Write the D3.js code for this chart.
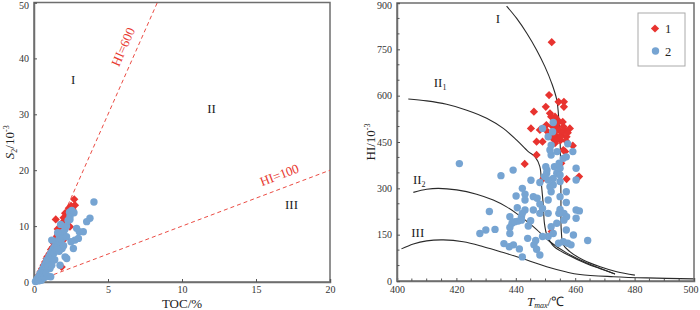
<!DOCTYPE html>
<html><head><meta charset="utf-8">
<script src="https://cdn.jsdelivr.net/npm/d3@7"></script>
<style>
body{margin:0;background:#fff;}
svg text{font-family:"Liberation Serif","Times New Roman",serif;}
</style></head>
<body><svg id="c" width="700" height="310"></svg>
<script>
// ---------- Left chart data (TOC %, S2) ----------
const toc1 = [2.72,1.47,2.43,2.32,2.54,2.21,1.98,1.87,1.71,1.53,1.3,1.2,0.9,1.87,1.98,2.43,2.77,2.1,2.35,2.25,2.15,2.05,1.95,1.85,1.75,1.65,1.55,1.45,1.35,1.25,1.15,1.05,0.95,0.85,0.75,0.65,0.55,0.45,0.35,2.6,2.5,2.4,2.0,1.6];
const s2_1 = [14.8,11.2,12.6,11.7,13.5,10.8,9.6,8.7,7.8,6.6,6.3,5.7,4.5,2.7,7.5,9.9,13.75,12.3,13.2,12.4,11.6,11.0,10.4,10.0,9.2,8.6,8.2,7.4,6.9,6.0,5.8,5.1,4.6,4.2,3.6,3.0,2.4,1.9,1.3,13.0,13.6,12.9,11.5,9.5];
const toc2 = [0.1,0.2,0.3,0.35,0.4,0.45,0.5,0.55,0.6,0.65,0.7,0.75,0.8,0.85,0.9,0.95,1.0,1.05,1.1,1.15,1.2,1.25,1.3,1.35,1.4,1.45,1.5,1.55,1.6,1.65,1.7,1.75,1.8,1.85,1.9,1.95,2.0,2.1,2.2,2.3,2.4,2.55,2.7,4.05,3.78,3.56,3.33,3.06,3.0,2.88,2.77,2.66,2.43,2.21,2.1,1.76,1.3,1.2,1.08,0.97,0.63,0.41,0.86,1.53,2.43,1.8,1.6,2.2,1.9,1.4,2.5,0.3,0.5,0.7,1.0,0.8,1.13,1.2,1.7,2.0];
const s2_2 = [0.1,0.5,0.9,0.6,1.5,1.0,1.8,1.2,2.4,1.8,2.9,2.2,3.4,2.7,3.9,3.2,4.5,3.7,5.0,4.3,5.4,4.8,5.9,5.2,6.3,5.8,6.8,6.2,7.3,6.7,7.8,7.2,8.3,7.6,8.8,8.1,8.9,9.5,10.0,11.0,12.5,12.8,12.4,14.3,11.4,10.8,9.0,9.0,7.8,9.6,7.5,6.0,11.7,4.2,4.5,3.0,3.9,7.5,2.4,2.7,1.55,0.95,3.9,5.7,11.2,10.3,8.8,8.1,6.0,4.0,7.2,0.2,0.3,0.8,1.0,1.6,0.95,3.0,5.5,6.5];
const hiLines = [600,100];
const leftXTicks = [0,5,10,15,20];
const leftYTicks = [0,10,20,30,40,50];
const leftZones = [{t:"I",x:2.65,y:35.5},{t:"II",x:12,y:30.2},{t:"III",x:17.4,y:13}];

// ---------- Right chart data (Tmax °C, HI) ----------
const tmax1 = [452.1,451.2,454.4,456.2,456.2,450.1,446.1,451.5,451.9,453.2,445.1,448.1,450.3,450.7,452.4,453.2,456.6,458.2,453.8,455.4,457.1,452.4,447,449,453.2,459.2,456,456.6,447,443,455.3,449.3,457.1,461.3,452.1,454.5,455.5,456,454,455,457.5,453,454.2,455.8,452.8,456.8,455,453.5];
const hi1   = [773,602,580,580,564,564,548,543,532,532,494,489,505,483,500,500,489,494,467,473,467,462,451,451,446,438,424,419,408,379,381,332,330,338,160,490,480,500,510,455,480,480,520,515,470,455,465,455];
const tmax2 = [421,435,439.1,431.1,427.9,429.9,433,436,437.8,439.2,441.2,442.2,438,438,438,438.7,439.7,440.8,441.9,440.5,440.1,442.2,443.1,443.1,443.1,442.2,441.9,444.2,445,444,445.9,445.1,448.1,445.9,447.2,448.1,449,448.1,446.1,447,448.1,446.7,449,450.9,451.9,450.9,450.9,451.9,452.6,452.6,453.8,450.5,453,454.6,451.9,451.5,451.9,450.9,449,452.6,452.4,453.9,456,457,457.5,459.2,460.3,460.3,457,457,454.9,456.2,457.1,456.2,454.5,453.8,459.4,457,457.5,458.6,456,460.3,461.4,460.3,464.2,454.9,454.9,454.9,450.1,450.4,450.9,451.5,449.7,454.4,452.6,454.9];
const hi2   = [380,341,359,225,154,165,167,121,111,117,104,78,173,154,208,187,192,194,208,237,275,300,281,262,230,219,197,178,195,138,273,326,319,230,268,249,235,219,117,103,84,131,144,144,176,219,262,289,311,332,349,359,370,381,408,424,440,467,494,513,483,419,397,402,444,419,365,327,289,254,232,219,208,197,219,187,149,165,122,117,127,230,227,203,131,322,343,365,370,349,327,305,338,122,154,273];
const rightXTicks = [400,420,440,460,480,500];
const rightYTicks = [0,150,300,450,600,750,900];
// type curves (Tmax, HI)
const curveI   = [[436.9,890],[440.3,850],[443.7,802],[447.0,748],[449.8,694],[452.1,640],[453.8,586],[454.5,521],[454.9,456],[455.1,370],[455.2,262],[455.3,165],[456.0,117],[458.2,95],[462.7,68],[468.4,46],[474,30],[480.1,19]];
const curveII1 = [[403.8,589],[410,583],[416.7,572],[423.5,553],[430.2,527],[435.8,494],[440.3,456],[444.2,419],[446.5,402],[448.1,370],[448.7,305],[449.3,240],[449.6,190],[450.5,148],[452.8,112],[457.3,86],[463.9,56],[468.4,40],[473.4,23]];
const curveII2 = [[405.5,287],[410,297],[413.9,300],[420.1,295],[426.8,281],[432.4,262],[436.9,240],[440.3,218],[445.9,176],[451.5,127],[457.1,91],[463.9,58],[468.4,41],[473.4,23]];
const curveIII = [[401.5,104],[405.5,120],[410,130],[415.6,133],[422.3,127],[429.1,111],[435.8,92],[441.4,75],[450.4,46],[457.1,29],[461.6,21],[472.9,14],[484.1,10],[499.8,7]];
const curves = [curveI,curveII1,curveII2,curveIII];
const rightZones = [{t:"I",s:"",x:434,y:835},{t:"II",s:"1",x:414.5,y:628},{t:"II",s:"2",x:407.5,y:313},{t:"III",s:"",x:407,y:143}];
const legendItems = ["1","2"];

const RED = "#e8332f", BLUE = "#76a4d2";
const svg = d3.select("#c");
const frameColor = "#6e6e6e";

function styleAxis(a){
  a.select(".domain").attr("stroke",frameColor).attr("stroke-width",1.5);
  a.selectAll(".tick line").attr("stroke","#555");
  a.selectAll(".tick text").attr("font-size",10).attr("fill","#333").attr("font-family","Liberation Serif");
}

// ================= LEFT =================
const xL = d3.scaleLinear().domain([0,20]).range([34,330]);
const yL = d3.scaleLinear().domain([0,50]).range([282,2.5]);
const gL = svg.append("g");

gL.append("rect").attr("x",xL(0)).attr("y",yL(50)).attr("width",xL(20)-xL(0)).attr("height",yL(0)-yL(50))
  .attr("fill","none").attr("stroke",frameColor).attr("stroke-width",1.5);
const axL = gL.append("g").attr("transform",`translate(0,${yL(0)})`)
  .call(d3.axisBottom(xL).tickValues(leftXTicks).tickSize(-3).tickPadding(4));
const ayL = gL.append("g").attr("transform",`translate(${xL(0)},0)`)
  .call(d3.axisLeft(yL).tickValues(leftYTicks).tickSize(-3).tickPadding(5));
styleAxis(axL); styleAxis(ayL);
ayL.selectAll(".tick text").filter(d=>d===50).attr("dy","0.6em");

// HI lines
hiLines.forEach(h=>{
  const xEnd = Math.min(20, 50*100/h);
  gL.append("line").attr("x1",xL(0)).attr("y1",yL(0)).attr("x2",xL(xEnd)).attr("y2",yL(xEnd*h/100))
    .attr("stroke","#eb4c44").attr("stroke-width",1).attr("stroke-dasharray","4,3");
});
function hiLabel(h, tocAt, off){
  const px = xL(tocAt), py = yL(tocAt*h/100);
  const ang = Math.atan2(yL(0)-yL(h/100*10), xL(10)-xL(0))*180/Math.PI;
  const rad = ang*Math.PI/180;
  const lx = px - off*Math.sin(rad), ly = py - off*Math.cos(rad);
  gL.append("text").attr("transform",`translate(${lx},${ly}) rotate(${-ang})`)
    .attr("text-anchor","middle").attr("font-size",13).attr("fill","#e8382f").text("HI="+h);
}
hiLabel(600, 6.85, 9);
hiLabel(100, 16.9, 9);

leftZones.forEach(z=>gL.append("text").attr("x",xL(z.x)).attr("y",yL(z.y)).attr("text-anchor","middle")
  .attr("font-size",13).attr("fill","#222").text(z.t));

const diamond = d3.symbol().type(d3.symbolSquare).size(34);
gL.append("g").selectAll("path").data(d3.range(toc1.length)).join("path")
  .attr("d",diamond).attr("fill",RED)
  .attr("transform",i=>`translate(${xL(toc1[i])},${yL(s2_1[i])}) rotate(45)`);
gL.append("g").selectAll("circle").data(d3.range(toc2.length)).join("circle")
  .attr("cx",i=>xL(toc2[i])).attr("cy",i=>yL(s2_2[i])).attr("r",3.7).attr("fill",BLUE);

gL.append("text").attr("x",(xL(0)+xL(20))/2).attr("y",307.5).attr("text-anchor","middle").attr("font-size",13).attr("fill","#222").text("TOC/%");
const yt = gL.append("text").attr("transform",`translate(14,${(yL(0)+yL(50))/2}) rotate(-90)`)
  .attr("text-anchor","middle").attr("font-size",13).attr("fill","#222");
yt.append("tspan").attr("font-style","italic").text("S");
yt.append("tspan").attr("font-size",8).attr("dy",3).text("2");
yt.append("tspan").attr("dy",-3).text("/10");
yt.append("tspan").attr("font-size",8).attr("dy",-5).text("-3");

// ================= RIGHT =================
const xR = d3.scaleLinear().domain([400,500]).range([397,694]);
const yR = d3.scaleLinear().domain([0,900]).range([281,3]);
const gR = svg.append("g");
gR.append("rect").attr("x",xR(400)).attr("y",yR(900)).attr("width",xR(500)-xR(400)).attr("height",yR(0)-yR(900))
  .attr("fill","none").attr("stroke",frameColor).attr("stroke-width",1.5);
const axR = gR.append("g").attr("transform",`translate(0,${yR(0)})`)
  .call(d3.axisBottom(xR).tickValues(rightXTicks).tickSize(-3).tickPadding(5));
const ayR = gR.append("g").attr("transform",`translate(${xR(400)},0)`)
  .call(d3.axisLeft(yR).tickValues(rightYTicks).tickSize(-3).tickPadding(5));
styleAxis(axR); styleAxis(ayR);
axR.selectAll(".tick text").filter(d=>d===500).attr("text-anchor","end").attr("dx","0.4em");
ayR.selectAll(".tick text").filter(d=>d===900).attr("dy","0.55em");
gR.append("g").selectAll("line").data(d3.range(405,500,5).filter(v=>v%20!==0)).join("line")
  .attr("x1",d=>xR(d)).attr("x2",d=>xR(d)).attr("y1",yR(0)).attr("y2",yR(0)-2.5).attr("stroke","#555");
gR.append("g").selectAll("line").data(d3.range(50,900,50).filter(v=>v%150!==0)).join("line")
  .attr("y1",d=>yR(d)).attr("y2",d=>yR(d)).attr("x1",xR(400)).attr("x2",xR(400)+2.5).attr("stroke","#555");

const lineGen = d3.line().x(d=>xR(d[0])).y(d=>yR(d[1])).curve(d3.curveCatmullRom.alpha(0.5));
curves.forEach(c=>gR.append("path").attr("d",lineGen(c)).attr("fill","none").attr("stroke","#2a2a2a").attr("stroke-width",1.1));

rightZones.forEach(z=>{
  const t = gR.append("text").attr("x",xR(z.x)).attr("y",yR(z.y)).attr("text-anchor","middle").attr("font-size",13).attr("fill","#222");
  t.append("tspan").text(z.t);
  if(z.s) t.append("tspan").attr("font-size",8).attr("dy",3).text(z.s);
});

gR.append("g").selectAll("path").data(d3.range(tmax1.length)).join("path")
  .attr("d",diamond).attr("fill",RED)
  .attr("transform",i=>`translate(${xR(tmax1[i])},${yR(hi1[i])}) rotate(45)`);
gR.append("g").selectAll("circle").data(d3.range(tmax2.length)).join("circle")
  .attr("cx",i=>xR(tmax2[i])).attr("cy",i=>yR(hi2[i])).attr("r",3.7).attr("fill",BLUE);

const lg = gR.append("g");
lg.append("rect").attr("x",638).attr("y",13).attr("width",47).attr("height",53).attr("fill","#fff").attr("stroke","#aaa").attr("stroke-width",1);
legendItems.forEach((l,i)=>{
  const cy = 28.5 + i*22.5;
  if(i===0) lg.append("path").attr("d",diamond).attr("fill",RED).attr("transform",`translate(655,${cy}) rotate(45)`);
  else lg.append("circle").attr("cx",655.5).attr("cy",cy).attr("r",3.7).attr("fill",BLUE);
  lg.append("text").attr("x",665).attr("y",cy+4.5).attr("font-size",12.5).attr("fill","#222").text(l);
});

const xt = gR.append("text").attr("x",(xR(400)+xR(500))/2).attr("y",305.5).attr("text-anchor","middle").attr("font-size",13).attr("fill","#222");
xt.append("tspan").attr("font-style","italic").text("T");
xt.append("tspan").attr("font-style","italic").attr("font-size",8).attr("dy",2.5).text("max");
xt.append("tspan").attr("dy",-2.5).text("/℃");
const yt2 = gR.append("text").attr("transform",`translate(375,${(yR(0)+yR(900))/2}) rotate(-90)`)
  .attr("text-anchor","middle").attr("font-size",13).attr("fill","#222");
yt2.append("tspan").text("HI/10");
yt2.append("tspan").attr("font-size",8).attr("dy",-5).text("-3");
</script></body></html>
